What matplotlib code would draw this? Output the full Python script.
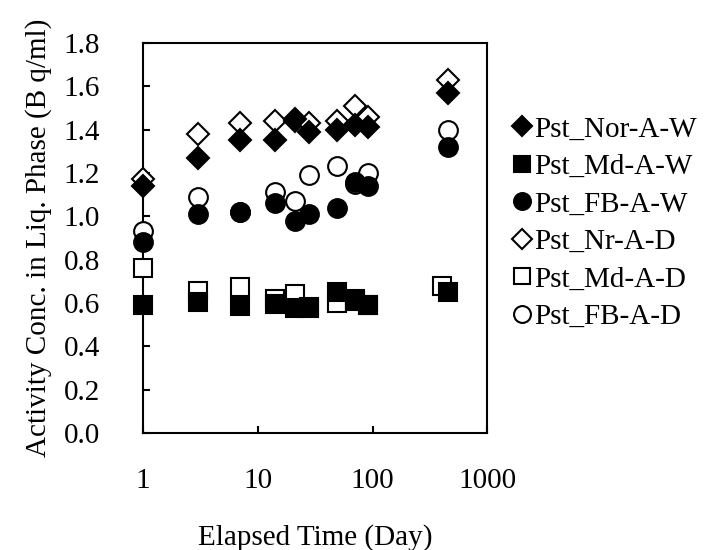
import matplotlib
matplotlib.use("Agg")
import matplotlib.pyplot as plt
from matplotlib.ticker import FixedLocator, FixedFormatter, FormatStrFormatter, NullLocator

plt.rcParams['font.family'] = ['Liberation Serif', 'DejaVu Serif']

# elapsed time (day)
days = [1, 3, 7, 14, 21, 28, 49, 70, 91, 450]
days_md_d = [1, 3, 7, 14, 21, 28, 49, 70, 91, 400]

# activity conc. in liquid phase (Bq/ml)
nor_a_w = [1.14, 1.27, 1.35, 1.35, 1.45, 1.39, 1.40, 1.42, 1.41, 1.57]
md_a_w = [0.59, 0.605, 0.585, 0.595, 0.577, 0.577, 0.65, 0.62, 0.59, 0.65]
fb_a_w = [0.88, 1.01, 1.02, 1.06, 0.98, 1.01, 1.04, 1.16, 1.14, 1.32]
nr_a_d = [1.17, 1.38, 1.43, 1.44, 1.44, 1.43, 1.44, 1.51, 1.46, 1.63]
md_a_d = [0.76, 0.655, 0.675, 0.62, 0.64, 0.58, 0.60, 0.61, 0.59, 0.68]
fb_a_d = [0.93, 1.09, 1.02, 1.11, 1.07, 1.19, 1.23, 1.15, 1.20, 1.40]

x_ticks = [1, 10, 100, 1000]
x_tick_labels = ['1', '10', '100', '1000']
y_ticks = [0.0, 0.2, 0.4, 0.6, 0.8, 1.0, 1.2, 1.4, 1.6, 1.8]

FS = 21

fig = plt.figure(figsize=(7.22, 5.5), dpi=100)
ax = fig.add_axes([0.198, 0.213, 0.477, 0.709])

# (label, x, y, marker, size, filled)
series = [
    ('Pst_Nor-A-W', days, nor_a_w, 'D', 11, True),
    ('Pst_Md-A-W', days, md_a_w, 's', 12.5, True),
    ('Pst_FB-A-W', days, fb_a_w, 'o', 13.5, True),
    ('Pst_Nr-A-D', days, nr_a_d, 'D', 11, False),
    ('Pst_Md-A-D', days_md_d, md_a_d, 's', 12.5, False),
    ('Pst_FB-A-D', days, fb_a_d, 'o', 13.5, False),
]

for label, xs, ys, mk, ms, filled in series:
    ax.plot(xs, ys, linestyle='none', marker=mk, markersize=ms,
            markerfacecolor='black' if filled else 'white',
            markeredgecolor='black', markeredgewidth=1.5,
            label=label, clip_on=False, zorder=4 if filled else 3)

ax.set_xscale('log')
ax.set_xlim(1, 1000)
ax.set_ylim(0, 1.8)
ax.xaxis.set_major_locator(FixedLocator(x_ticks))
ax.xaxis.set_major_formatter(FixedFormatter(x_tick_labels))
ax.xaxis.set_minor_locator(NullLocator())
ax.yaxis.set_major_locator(FixedLocator(y_ticks))
ax.yaxis.set_major_formatter(FormatStrFormatter('%.1f'))

ax.tick_params(axis='x', direction='in', length=5, width=1.5, pad=25, labelsize=FS)
ax.tick_params(axis='y', direction='in', length=5, width=1.5, pad=31, labelsize=FS)
for sp in ax.spines.values():
    sp.set_linewidth(1.5)

ax.set_xlabel('Elapsed Time (Day)', fontsize=FS, labelpad=22)
ax.set_ylabel('Activity Conc. in Liq. Phase (B q/ml)', fontsize=FS, labelpad=8)

fig.legend(loc='upper left', bbox_to_anchor=(0.695, 0.81), frameon=False,
           fontsize=FS, markerscale=0.9, handlelength=0.6, handletextpad=0.1,
           labelspacing=0.38, borderaxespad=0)

fig.savefig('out.png', dpi=100)
